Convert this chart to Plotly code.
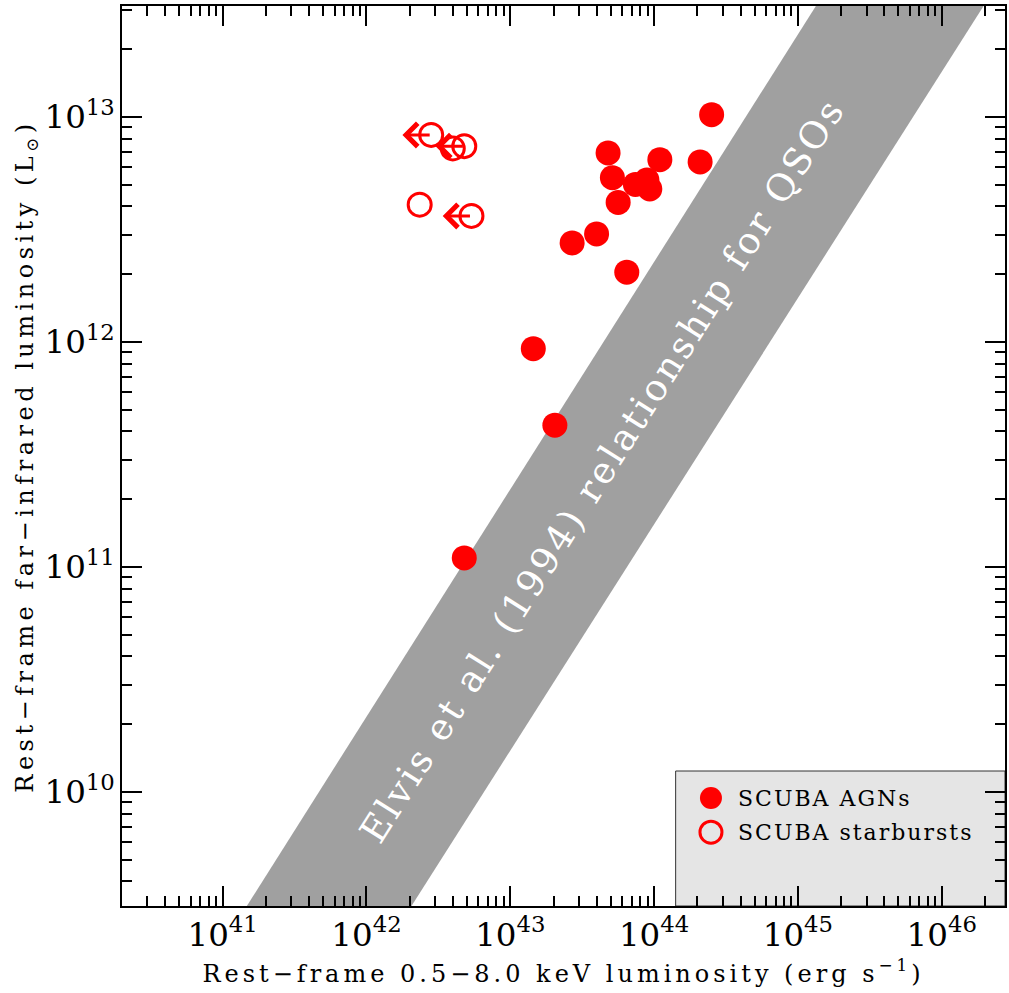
import numpy as np
import plotly.graph_objects as go

# ---- data (log10 values) ----
agn_log_lx = [44.40, 43.68, 44.04, 44.32, 43.71, 43.87, 43.95, 43.97, 43.75, 43.60, 43.43, 43.81, 43.16, 43.31, 42.68]
agn_log_lfir = [13.01, 12.84, 12.81, 12.80, 12.73, 12.70, 12.72, 12.68, 12.62, 12.48, 12.44, 12.31, 11.97, 11.63, 11.04]

sb_log_lx = [42.45, 42.60, 42.68, 42.37, 42.73]
sb_log_lfir = [12.92, 12.86, 12.87, 12.61, 12.56]
sb_upper_limit = [True, False, True, False, True]
arrow_length_dex = 0.20

# Elvis et al. (1994) QSO band: polygon corners (log Lx, log Lfir)
band_log_lx = [41.168, 42.313, 46.291, 45.125]
band_log_lfir = [9.493, 9.493, 13.493, 13.493]

band_label = "Elvis et al. (1994) relationship for QSOs"
band_label_pos = (43.64, 11.43)

x_title = "Rest\u2212frame 0.5\u22128.0 keV luminosity (erg s<sup>\u22121</sup>)"
y_title = "Rest\u2212frame far\u2212infrared luminosity (L<sub>\u2299</sub>)"
legend_labels = ["SCUBA AGNs", "SCUBA starbursts"]

FONT = "DejaVu Serif"
RED = "#ff0000"


def spaced(text, px):
    return '<span style="letter-spacing:%spx">%s</span>' % (px, text)


fig = go.Figure()

fig.add_trace(go.Scatter(
    x=[10 ** v for v in band_log_lx + band_log_lx[:1]],
    y=[10 ** v for v in band_log_lfir + band_log_lfir[:1]],
    fill="toself", fillcolor="#a0a0a0", mode="lines",
    line=dict(width=0, color="#a0a0a0"), hoverinfo="skip", showlegend=False))

fig.add_trace(go.Scatter(
    x=[10 ** v for v in agn_log_lx], y=[10 ** v for v in agn_log_lfir],
    mode="markers", name=legend_labels[0],
    marker=dict(symbol="circle", size=25, color=RED, line=dict(width=0)),
    showlegend=False))

fig.add_trace(go.Scatter(
    x=[10 ** v for v in sb_log_lx], y=[10 ** v for v in sb_log_lfir],
    mode="markers", name=legend_labels[1],
    marker=dict(symbol="circle-open", size=23, color=RED, line=dict(width=3, color=RED)),
    showlegend=False))

annotations = []
for lx, ly, up in zip(sb_log_lx, sb_log_lfir, sb_upper_limit):
    if up:
        annotations.append(dict(
            x=lx - arrow_length_dex, y=ly, ax=lx, ay=ly,
            xref="x", yref="y", axref="x", ayref="y",
            text="", showarrow=True, arrowhead=4, arrowsize=1.5,
            arrowwidth=3, arrowcolor=RED, standoff=0, startstandoff=0))

annotations.append(dict(
    x=band_label_pos[0], y=band_label_pos[1], xref="x", yref="y",
    text=spaced(band_label, 3), showarrow=False, textangle=-57.7,
    font=dict(family=FONT, size=37, color="white")))

# legend (manual)
shapes = [dict(type="rect", xref="paper", yref="paper", x0=0.627, x1=1.0, y0=0.0, y1=0.15,
               fillcolor="#e5e5e5", line=dict(color="#333333", width=1), layer="below")]
for i, lab in enumerate(legend_labels):
    filled = (i == 0)
    yp = 0.12 - i * 0.038
    shapes.append(dict(type="circle", xref="paper", yref="paper",
                       xsizemode="pixel", ysizemode="pixel",
                       xanchor=0.667, yanchor=yp, x0=-11, x1=11, y0=-11, y1=11,
                       fillcolor=RED if filled else "rgba(0,0,0,0)",
                       line=dict(color=RED, width=0 if filled else 3)))
    annotations.append(dict(x=0.695, y=yp, xref="paper", yref="paper", xanchor="left",
                            yanchor="middle", text=spaced(lab, 2), showarrow=False,
                            font=dict(family=FONT, size=22, color="black")))

axis_common = dict(
    type="log", dtick=1, exponentformat="power", showgrid=False, zeroline=False,
    showline=True, linecolor="black", linewidth=2, mirror="ticks",
    ticks="inside", ticklen=20, tickwidth=1.5, tickcolor="black",
    minor=dict(ticks="inside", ticklen=10, tickwidth=1.5, tickcolor="black", showgrid=False),
    tickfont=dict(family=FONT, size=26, color="black"),
)

fig.update_xaxes(**axis_common, range=[40.3, 46.44],
                 title=dict(text=spaced(x_title, 4),
                            font=dict(family=FONT, size=24, color="black"), standoff=12))
fig.update_yaxes(**axis_common, range=[9.493, 13.493],
                 title=dict(text=spaced(y_title, 4.5),
                            font=dict(family=FONT, size=24, color="black"), standoff=4))

fig.update_layout(
    width=1009, height=993, margin=dict(l=122, r=2, t=6, b=87),
    paper_bgcolor="white", plot_bgcolor="white",
    annotations=annotations, shapes=shapes, showlegend=False)

fig.write_html("out.html")
